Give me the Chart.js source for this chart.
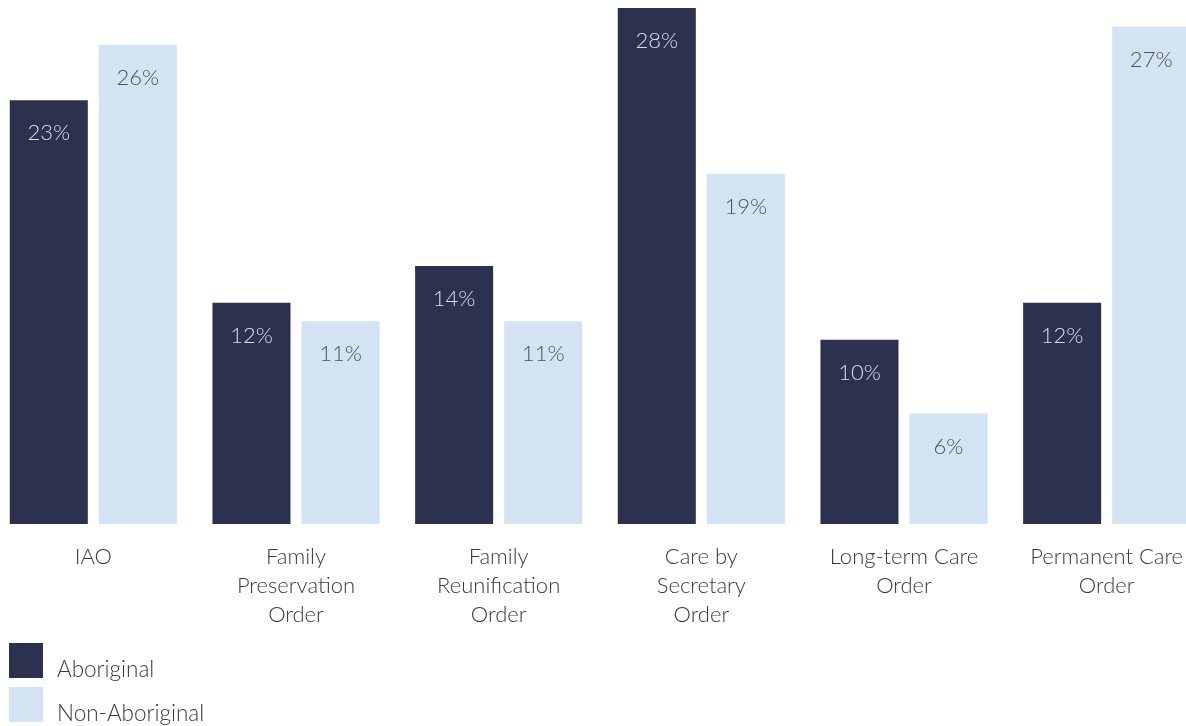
<!DOCTYPE html>
<html>
<head>
<meta charset="utf-8">
<script src="https://cdn.jsdelivr.net/npm/chart.js@4.4.1/dist/chart.umd.min.js"></script>
<style>
  html, body { margin: 0; padding: 0; background: #fff; overflow: hidden; }
  body { width: 1186px; height: 726px; position: relative; font-family: Lato, sans-serif; font-weight: 300; }
  #wrap { position: absolute; left: -8px; top: 0; width: 1216px; height: 650px; }
  .legend-item { position: absolute; left: 9px; }
  .legend-box { position: absolute; left: 0; top: 0; width: 34px; height: 35px; }
  .legend-text { position: absolute; left: 48px; white-space: nowrap; font-size: 22.5px; color: #3a3a3a; line-height: 1; }
</style>
</head>
<body>
<div id="wrap"><canvas id="chart"></canvas></div>
<div class="legend-item" style="top:643px">
  <div class="legend-box" style="background:#2d3150"></div>
  <div class="legend-text" style="top:15px">Aboriginal</div>
</div>
<div class="legend-item" style="top:687px">
  <div class="legend-box" style="background:#d4e3f4"></div>
  <div class="legend-text" style="top:15px">Non-Aboriginal</div>
</div>
<script>
const categories = [
  'IAO',
  ['Family', 'Preservation', 'Order'],
  ['Family', 'Reunification', 'Order'],
  ['Care by', 'Secretary', 'Order'],
  ['Long-term Care', 'Order'],
  ['Permanent Care', 'Order']
];
const aboriginal = [23, 12, 14, 28, 10, 12];
const nonAboriginal = [26, 11, 11, 19, 6, 27];

const darkColor = '#2d3150';
const lightColor = '#d4e3f4';
const fontFamily = 'Lato, sans-serif';

// Percent labels drawn just inside the top of each bar
const barValueLabels = {
  id: 'barValueLabels',
  afterDatasetsDraw(chart) {
    const { ctx } = chart;
    ctx.save();
    ctx.font = `300 22px ${fontFamily}`;
    ctx.textAlign = 'center';
    ctx.textBaseline = 'middle';
    chart.data.datasets.forEach((ds, i) => {
      const meta = chart.getDatasetMeta(i);
      ctx.fillStyle = i === 0 ? '#dadde7' : '#4b5167';
      meta.data.forEach((bar, j) => {
        ctx.fillText(ds.data[j] + '%', bar.x, bar.y + 33);
      });
    });
    ctx.restore();
  }
};

new Chart(document.getElementById('chart'), {
  type: 'bar',
  data: {
    labels: categories,
    datasets: [
      {
        label: 'Aboriginal',
        data: aboriginal,
        backgroundColor: darkColor,
        categoryPercentage: 0.879,
        barPercentage: 0.876
      },
      {
        label: 'Non-Aboriginal',
        data: nonAboriginal,
        backgroundColor: lightColor,
        categoryPercentage: 0.879,
        barPercentage: 0.876
      }
    ]
  },
  options: {
    responsive: true,
    maintainAspectRatio: false,
    animation: false,
    layout: { padding: { top: 8, left: 0, right: 0, bottom: 0 } },
    plugins: {
      legend: { display: false },
      tooltip: { enabled: false }
    },
    scales: {
      y: { display: false, min: 0, max: 28 },
      x: {
        grid: { display: false, drawTicks: false },
        border: { display: false },
        ticks: {
          padding: 19,
          color: '#3a3a3a',
          maxRotation: 0,
          autoSkip: false,
          font: { family: fontFamily, size: 22, weight: '300', lineHeight: 1.3 }
        },
        afterFit(scale) { scale.height = 126; }
      }
    }
  },
  plugins: [barValueLabels]
});
</script>
</body>
</html>
